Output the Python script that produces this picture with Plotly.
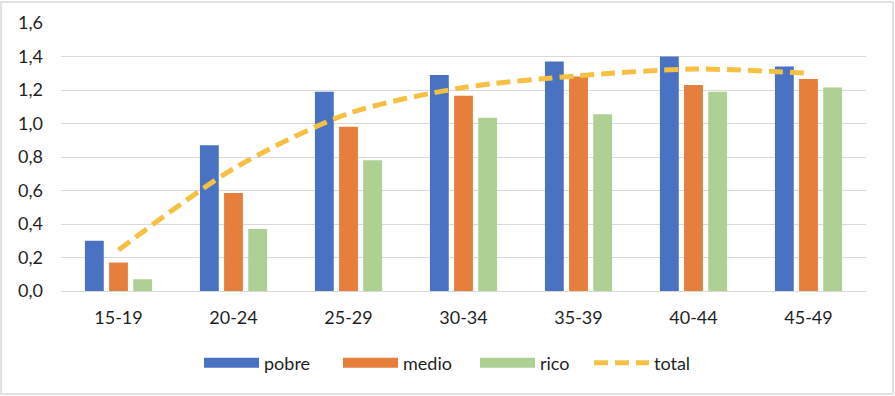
import plotly.graph_objects as go

categories = ["15-19", "20-24", "25-29", "30-34", "35-39", "40-44", "45-49"]
pobre = [0.30, 0.87, 1.19, 1.29, 1.37, 1.40, 1.34]
medio = [0.17, 0.585, 0.98, 1.165, 1.28, 1.23, 1.265]
rico = [0.07, 0.37, 0.78, 1.035, 1.055, 1.19, 1.215]
total = [0.245, 0.73, 1.06, 1.215, 1.285, 1.325, 1.30]
y_ticks = [0, 0.2, 0.4, 0.6, 0.8, 1.0, 1.2, 1.4, 1.6]

series_names = ["pobre", "medio", "rico"]
series_values = [pobre, medio, rico]
series_colors = ["#4A72C2", "#E67F3C", "#AED093"]
total_color = "#F6C143"

font_family = "Lato, Open Sans, sans-serif"
txt = "#1F1F1F"

W, H = 895, 396
ML, MR, MT, MB = 61, 29, 23, 105
PW, PH = W - ML - MR, H - MT - MB

# legend swatch left edges (pixels) for each entry
legend_px = [199, 338, 475, 589]
legend_ids = ["legend", "legend2", "legend3", "legend4"]
legend_y = -(363 - (MT + PH)) / PH

fig = go.Figure()
for name, vals, col in zip(series_names, series_values, series_colors):
    fig.add_trace(go.Bar(name=name, x=categories, y=vals, legendgroup=name,
                         showlegend=False,
                         marker=dict(color=col, line=dict(width=0))))
for name, col, lid in zip(series_names, series_colors, legend_ids[:3]):
    fig.add_trace(go.Scatter(name=name, x=[None], y=[None], mode="lines",
                             legendgroup=name, showlegend=True, legend=lid,
                             line=dict(color=col, width=10)))
fig.add_trace(go.Scatter(name="total", x=categories, y=total, mode="lines",
                         legend=legend_ids[3],
                         line=dict(color=total_color, width=5, dash="14px,7px",
                                   shape="spline", smoothing=0.8)))

legend_common = dict(orientation="h", xanchor="left", y=legend_y, yanchor="middle",
                     font=dict(size=18, color=txt, family=font_family),
                     itemwidth=55, borderwidth=0, bgcolor="rgba(0,0,0,0)")
layout_legends = {}
for lid, px in zip(legend_ids, legend_px):
    layout_legends[lid] = dict(x=(px - ML) / PW, **legend_common)

fig.update_layout(
    width=W, height=H,
    margin=dict(l=ML, r=MR, t=MT, b=MB),
    paper_bgcolor="white", plot_bgcolor="white",
    separators=",.",
    barmode="group", bargap=0.37, bargroupgap=0.22,
    font=dict(family=font_family, size=18, color=txt),
    showlegend=True,
    xaxis=dict(showgrid=False, showline=True, linecolor="#D9D9D9", linewidth=1,
               ticks="", ticklabelstandoff=10,
               tickfont=dict(size=18, color=txt)),
    yaxis=dict(range=[0, 1.6], tickvals=y_ticks, tickformat=".1f",
               showgrid=True, gridcolor="#D9D9D9", gridwidth=1,
               zeroline=False, showline=False, ticks="", ticklabelstandoff=17,
               tickfont=dict(size=18, color=txt)),
    shapes=[dict(type="rect", xref="paper", yref="paper",
                 x0=(1 - ML) / PW, x1=(893 - ML) / PW,
                 y0=((MT + PH) - 394) / PH, y1=((MT + PH) - 2) / PH,
                 line=dict(color="#D9D9D9", width=1.5),
                 fillcolor="rgba(0,0,0,0)", layer="below")],
    **layout_legends,
)

fig.write_html("out.html", config={"displayModeBar": False},
               post_script="document.body.style.margin='0';document.body.style.padding='0';")
